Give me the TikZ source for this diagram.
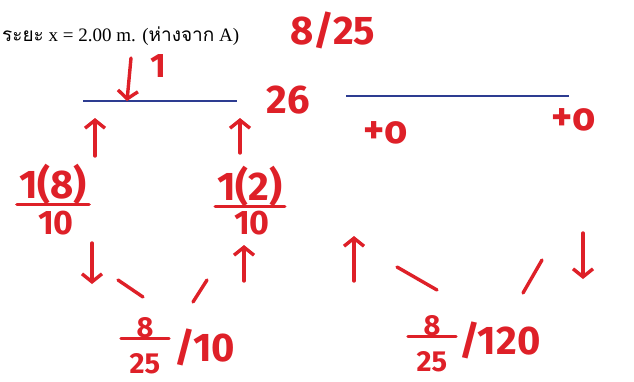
\documentclass[tikz,border=0pt]{standalone}
\usepackage{fontspec}
\setmainfont{Liberation Serif}
\newfontfamily\thaifont[Script=Thai]{Loma}
\newfontfamily\handfont{Fira Sans}
\usetikzlibrary{arrows.meta}
\definecolor{inkred}{RGB}{222,32,40}
\definecolor{beamblue}{RGB}{45,60,145}

\begin{document}
\begin{tikzpicture}[
  x=1pt, y=-1pt,
  ink/.style      = {inkred, line width=3.4pt, line cap=round},
  inkarrow/.style = {ink, -{Straight Barb[length=8pt,width=20pt]}},
  hand/.style     = {text=inkred, inner sep=0pt,
                     font=\handfont\bfseries\fontsize{34}{34}\selectfont},
  bighand/.style  = {hand, font=\handfont\bfseries\fontsize{40}{40}\selectfont},
  smallhand/.style= {hand, font=\handfont\bfseries\fontsize{29}{29}\selectfont},
  beam/.style     = {beamblue, line width=1.6pt}
]
\useasboundingbox (0,0) rectangle (634,381);

% typed heading and the two beams
\node[anchor=west, inner sep=0pt, font=\fontsize{19}{21}\selectfont] (title)
      at (2,36) {{\thaifont ระยะ} x = 2.00 m. ({\thaifont ห่างจาก} A)};
\draw[beam] (83,101) -- (237,101);
\draw[beam] (346,96) -- (569,96);

% handwritten notes
\node[bighand] (topfrac) at (333,30) {8/25};
\node[bighand] (twosix) at (288,100) {26};
\node[bighand] (endA) at (386,133) {+o};
\node[bighand] (endB) at (574,120) {+o};
\node[hand] (one) at (158,66) {1};
\draw[inkarrow] (131,58) -- (127,101);

% up and down arrows
\foreach \x/\ya/\yb in {95/156/118, 240/153/118, 244/281/245, 354/281/236}{
  \draw[inkarrow] (\x,\ya) -- (\x,\yb);
}
\foreach \x/\ya/\yb in {92/243/284, 583/233/279}{
  \draw[inkarrow] (\x,\ya) -- (\x,\yb);
}

% slopes towards the bottom fractions
\draw[ink] (118,280) -- (143,297);
\draw[ink] (207,280) -- (193,302);
\draw[ink] (397,267) -- (437,290);
\draw[ink] (523,293) -- (542,260);

% side fractions
\node[bighand] (numL) at (53,184) {1(8)};
\node[hand] (denL) at (56,223) {10};
\draw[ink] ([xshift=-2pt]numL.south west) -- ([xshift=2pt]numL.south east);
\node[bighand] (numR) at (250,186) {1(2)};
\node[hand] (denR) at (252,223) {10};
\draw[ink] ([xshift=-2pt]numR.south west) -- ([xshift=2pt]numR.south east);

% bottom fractions
\node[smallhand] (numBL) at (145,328) {8};
\node[smallhand] (denBL) at (145,364) {25};
\draw[ink] ([xshift=-24pt]numBL.south) -- ([xshift=24pt]numBL.south);
\node[bighand] (restBL) at (205,347) {/10};
\node[smallhand] (numBR) at (432,326) {8};
\node[smallhand] (denBR) at (432,362) {25};
\draw[ink] ([xshift=-24pt]numBR.south) -- ([xshift=24pt]numBR.south);
\node[bighand] (restBR) at (500,340) {/120};
\end{tikzpicture}
\end{document}
